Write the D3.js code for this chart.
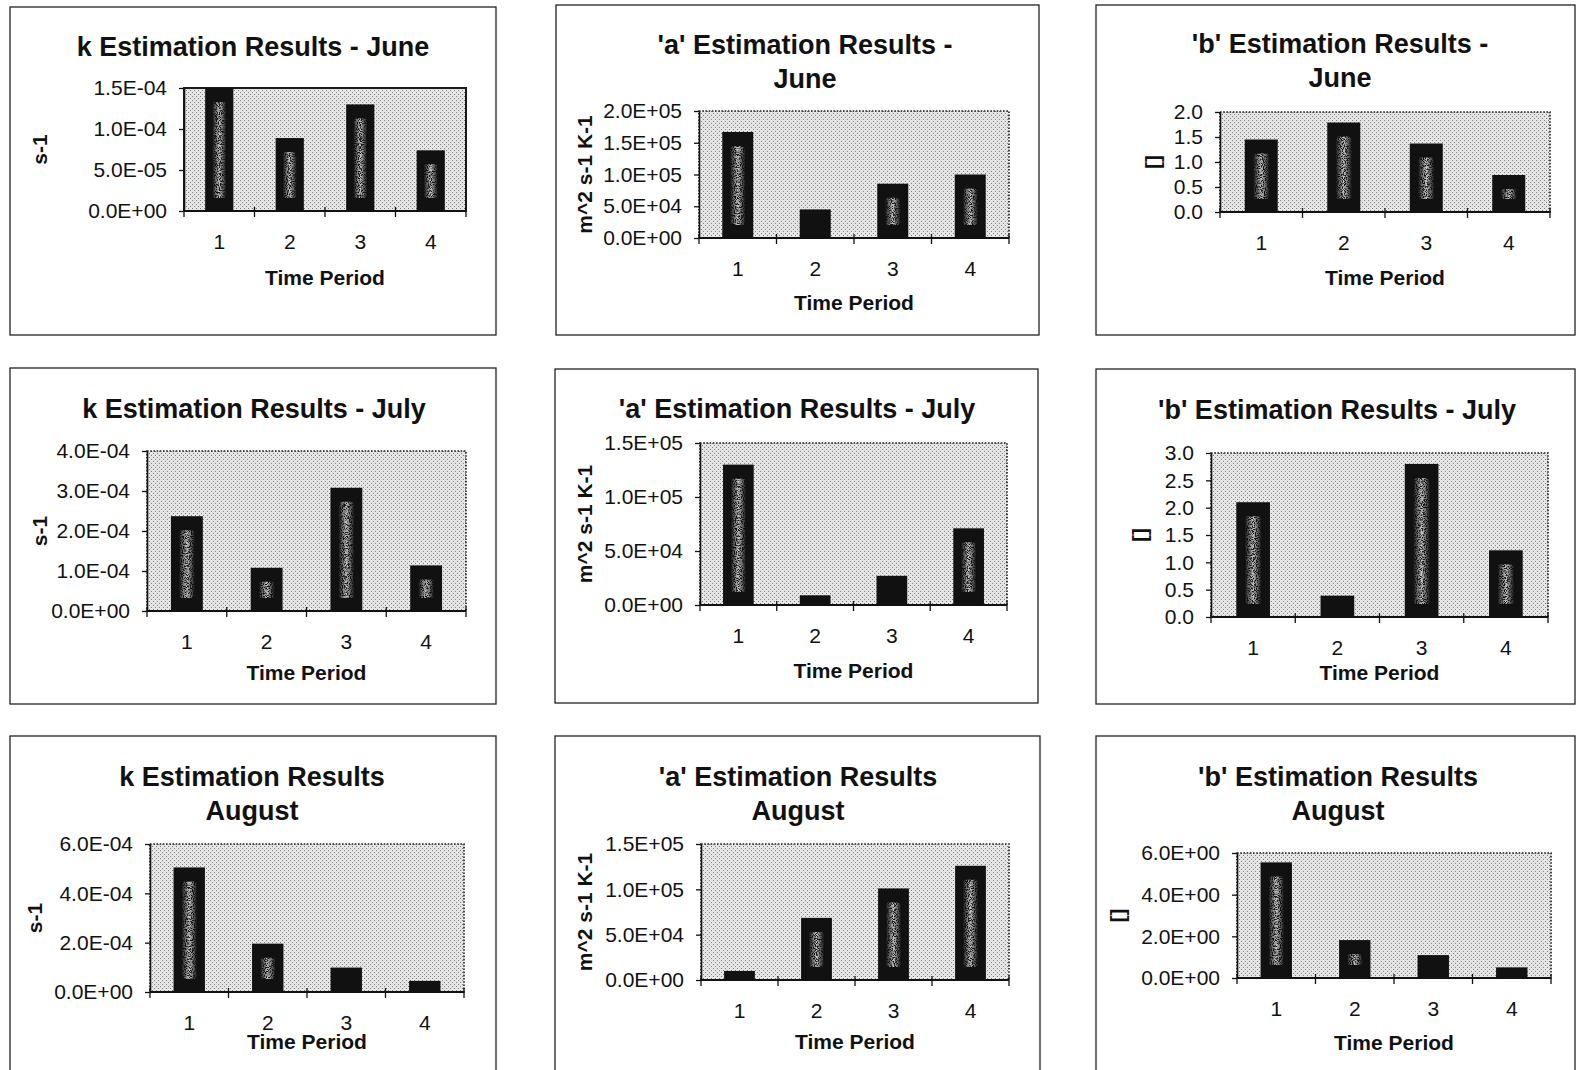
<!DOCTYPE html>
<html>
<head>
<meta charset="utf-8">
<script src="https://cdn.jsdelivr.net/npm/d3@7"></script>
<style>
  body { margin: 0; background: #fff; }
  text { font-family: "Liberation Sans", Arial, sans-serif; fill: #111; }
</style>
</head>
<body>
<svg id="chart" width="1577" height="1070"></svg>
<script>
// categories
const periods = ['1', '2', '3', '4'];

// series values
const kJune = [1.5e-4, 8.9e-5, 1.30e-4, 7.4e-5];
const aJune = [1.67e5, 4.5e4, 8.55e4, 1.0e5];
const bJune = [1.45, 1.79, 1.37, 0.74];
const kJuly = [2.37e-4, 1.08e-4, 3.08e-4, 1.14e-4];
const aJuly = [1.30e5, 9.0e3, 2.7e4, 7.1e4];
const bJuly = [2.10, 0.39, 2.80, 1.22];
const kAug = [5.05e-4, 1.96e-4, 9.9e-5, 4.5e-5];
const aAug = [1.0e4, 6.85e4, 1.01e5, 1.26e5];
const bAug = [5.55, 1.82, 1.10, 0.51];

// tick values
const kJuneTicks = [0, 5e-5, 1e-4, 1.5e-4];
const aJuneTicks = [0, 5e4, 1e5, 1.5e5, 2e5];
const bJuneTicks = [0, 0.5, 1.0, 1.5, 2.0];
const kJulyTicks = [0, 1e-4, 2e-4, 3e-4, 4e-4];
const aJulyTicks = [0, 5e4, 1e5, 1.5e5];
const bJulyTicks = [0, 0.5, 1.0, 1.5, 2.0, 2.5, 3.0];
const kAugTicks = [0, 2e-4, 4e-4, 6e-4];
const aAugTicks = [0, 5e4, 1e5, 1.5e5];
const bAugTicks = [0, 2, 4, 6];

const fmtE = v => {
  if (v === 0) return '0.0E+00';
  const e = Math.floor(Math.log10(Math.abs(v)) + 1e-9);
  const m = v / Math.pow(10, e);
  return m.toFixed(1) + 'E' + (e < 0 ? '-' : '+') + String(Math.abs(e)).padStart(2, '0');
};
const fmtF = v => v.toFixed(1);

// layout: frame [x0,y0,x1,y1], plot [x0,y0,x1,y1]
const panels = [
  { title: ['k Estimation Results - June'], titleX: 253, titleY: 56, data: kJune, ticks: kJuneTicks, fmt: fmtE,
    yLabel: 's-1', yLabelX: 40, frame: [10, 7, 496, 335], plot: [184, 88, 466, 211], xTitleY: 285, solid: true },
  { title: ["'a' Estimation Results -", 'June'], titleX: 805, titleY: 54, data: aJune, ticks: aJuneTicks, fmt: fmtE,
    yLabel: 'm^2 s-1 K-1', yLabelX: 585, frame: [556, 5, 1039, 335], plot: [699, 111, 1009, 238], xTitleY: 310 },
  { title: ["'b' Estimation Results -", 'June'], titleX: 1340, titleY: 53, data: bJune, ticks: bJuneTicks, fmt: fmtF,
    yLabel: '[]', yLabelX: 1153, frame: [1096, 5, 1575, 335], plot: [1220, 112, 1550, 212], xTitleY: 285 },
  { title: ['k Estimation Results - July'], titleX: 254, titleY: 418, data: kJuly, ticks: kJulyTicks, fmt: fmtE,
    yLabel: 's-1', yLabelX: 40, frame: [10, 368, 496, 704], plot: [147, 451, 466, 611], xTitleY: 680 },
  { title: ["'a' Estimation Results - July"], titleX: 797, titleY: 418, data: aJuly, ticks: aJulyTicks, fmt: fmtE,
    yLabel: 'm^2 s-1 K-1', yLabelX: 585, frame: [555, 369, 1038, 703], plot: [700, 443, 1007, 605], xTitleY: 678 },
  { title: ["'b' Estimation Results - July"], titleX: 1337, titleY: 419, data: bJuly, ticks: bJulyTicks, fmt: fmtF,
    yLabel: '[]', yLabelX: 1140, frame: [1096, 369, 1575, 704], plot: [1211, 453, 1548, 617], xTitleY: 680 },
  { title: ['k Estimation Results', 'August'], titleX: 252, titleY: 786, data: kAug, ticks: kAugTicks, fmt: fmtE,
    yLabel: 's-1', yLabelX: 35, frame: [10, 736, 496, 1090], plot: [150, 844, 464, 992], xTitleY: 1049 },
  { title: ["'a' Estimation Results", 'August'], titleX: 798, titleY: 786, data: aAug, ticks: aAugTicks, fmt: fmtE,
    yLabel: 'm^2 s-1 K-1', yLabelX: 585, frame: [555, 736, 1040, 1090], plot: [701, 844, 1009, 980], xTitleY: 1049 },
  { title: ["'b' Estimation Results", 'August'], titleX: 1338, titleY: 786, data: bAug, ticks: bAugTicks, fmt: fmtE,
    yLabel: '[]', yLabelX: 1118, frame: [1096, 736, 1575, 1090], plot: [1237, 853, 1551, 978], xTitleY: 1050 }
];

const svg = d3.select('#chart');
const defs = svg.append('defs');

// dotted plot-area fill
const pat = defs.append('pattern')
  .attr('id', 'dots').attr('width', 4).attr('height', 4)
  .attr('patternUnits', 'userSpaceOnUse');
pat.append('rect').attr('width', 4).attr('height', 4).attr('fill', '#e6e6e6');
pat.append('rect').attr('x', 0).attr('y', 0).attr('width', 1).attr('height', 1).attr('fill', '#7a7a7a');
pat.append('rect').attr('x', 2).attr('y', 2).attr('width', 1).attr('height', 1).attr('fill', '#7a7a7a');

// light streak inside the black bars
const grad = defs.append('linearGradient').attr('id', 'streak').attr('x1', 0).attr('x2', 1).attr('y1', 0).attr('y2', 0);
grad.append('stop').attr('offset', '0%').attr('stop-color', '#111');
grad.append('stop').attr('offset', '50%').attr('stop-color', '#c8c8c8');
grad.append('stop').attr('offset', '100%').attr('stop-color', '#111');

// speckle mask so the streak looks grainy
const speck = defs.append('filter').attr('id', 'speck')
  .attr('x', 0).attr('y', 0).attr('width', 1).attr('height', 1);
speck.append('feTurbulence').attr('type', 'fractalNoise').attr('baseFrequency', 0.9)
  .attr('numOctaves', 2).attr('seed', 4).attr('result', 'noise');
speck.append('feColorMatrix').attr('in', 'noise').attr('type', 'matrix')
  .attr('values', '0 0 0 0 0  0 0 0 0 0  0 0 0 0 0  5 0 0 0 -1.8').attr('result', 'mask');
speck.append('feComposite').attr('in', 'SourceGraphic').attr('in2', 'mask').attr('operator', 'in');

panels.forEach(p => {
  const g = svg.append('g');
  const [fx0, fy0, fx1, fy1] = p.frame;
  const [px0, py0, px1, py1] = p.plot;
  const w = px1 - px0, h = py1 - py0;

  g.append('rect')
    .attr('x', fx0).attr('y', fy0).attr('width', fx1 - fx0).attr('height', fy1 - fy0)
    .attr('fill', '#fff').attr('stroke', '#222').attr('stroke-width', 1.3);

  g.append('text')
    .attr('x', p.titleX).attr('y', p.titleY)
    .attr('text-anchor', 'middle')
    .style('font-size', '27px').style('font-weight', 'bold')
    .selectAll('tspan').data(p.title).enter().append('tspan')
    .attr('x', p.titleX).attr('dy', (d, i) => i ? 34 : 0)
    .text(d => d);

  const x = d3.scaleBand().domain(periods).range([0, w]).paddingInner(0.6).paddingOuter(0.3);
  const y = d3.scaleLinear().domain([0, p.ticks[p.ticks.length - 1]]).range([h, 0]);
  const xb = d3.scaleLinear().domain([0, periods.length]).range([0, w]);

  const plot = g.append('g').attr('transform', `translate(${px0},${py0})`);

  plot.append('rect')
    .attr('width', w).attr('height', h)
    .attr('fill', 'url(#dots)')
    .attr('stroke', '#1a1a1a')
    .attr('stroke-width', p.solid ? 2 : 1.6)
    .attr('stroke-dasharray', p.solid ? null : '1.6 1.6');

  plot.selectAll('.bar')
    .data(p.data)
    .enter()
    .append('rect')
    .classed('bar', true)
    .attr('x', (d, i) => x(periods[i]))
    .attr('y', d => y(d))
    .attr('width', x.bandwidth())
    .attr('height', d => h - y(d))
    .style('fill', '#111');

  plot.selectAll('.streak')
    .data(p.data.map((d, i) => ({ d, i })).filter(o => h - y(o.d) > 32))
    .enter()
    .append('rect')
    .classed('streak', true)
    .attr('x', o => x(periods[o.i]) + x.bandwidth() * 0.25)
    .attr('y', o => y(o.d) + 14)
    .attr('width', x.bandwidth() * 0.5)
    .attr('height', o => h - y(o.d) - 27)
    .attr('rx', 3)
    .attr('filter', 'url(#speck)')
    .style('fill', 'url(#streak)');

  // y axis
  const ya = plot.append('g')
    .call(d3.axisLeft(y).tickValues(p.ticks).tickFormat(p.fmt).tickSize(5).tickSizeOuter(0).tickPadding(12));
  ya.select('.domain').attr('stroke', '#111').attr('stroke-width', 1.6);
  ya.selectAll('.tick line').attr('stroke', '#111').attr('stroke-width', 1.3);
  ya.selectAll('text').style('font-size', '21px').attr('fill', '#111');

  // x axis
  const xa = plot.append('g').attr('transform', `translate(0,${h})`)
    .call(d3.axisBottom(x).tickSize(0).tickPadding(23));
  xa.select('.domain').remove();
  xa.selectAll('text').style('font-size', '21px').attr('fill', '#111');
  plot.append('line').attr('x1', 0).attr('x2', w).attr('y1', h).attr('y2', h)
    .attr('stroke', '#111').attr('stroke-width', 1.8);
  plot.selectAll('.xtick')
    .data(xb.ticks(periods.length))
    .enter()
    .append('line')
    .attr('x1', d => xb(d)).attr('x2', d => xb(d))
    .attr('y1', h - 4).attr('y2', h + 6)
    .attr('stroke', '#111').attr('stroke-width', 1.3);

  g.append('text')
    .attr('x', px0 + w / 2).attr('y', p.xTitleY)
    .attr('text-anchor', 'middle')
    .style('font-size', '21px').style('font-weight', 'bold')
    .text('Time Period');

  g.append('text')
    .attr('transform', `translate(${p.yLabelX},${py0 + h / 2}) rotate(-90)`)
    .attr('text-anchor', 'middle').attr('dy', '0.35em')
    .style('font-size', '21px').style('font-weight', 'bold')
    .text(p.yLabel);
});
</script>
</body>
</html>
